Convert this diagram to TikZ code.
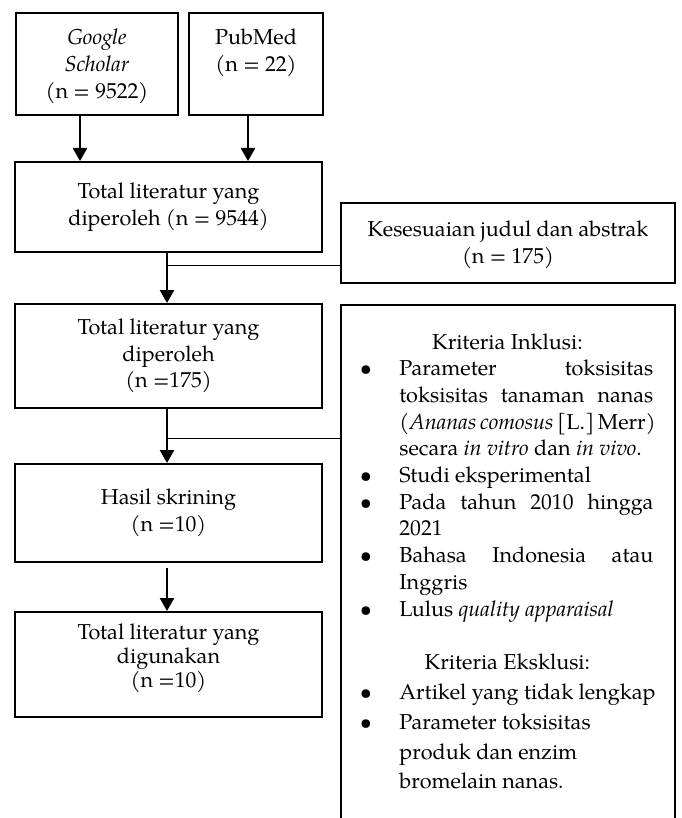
\documentclass[tikz,border=0pt]{standalone}
\usepackage{fontspec}
\setmainfont{TeX Gyre Pagella}
\usetikzlibrary{arrows.meta}
\newlength\kw \setlength\kw{127pt}
\newcommand\kb{\hbox to 29.5pt{\hskip 9.7pt\textbullet\hss}}
\newcommand\kn{\hbox to 29.5pt{}}
\begin{document}
\begin{tikzpicture}[x=0.5pt,y=-0.5pt,
  box/.style={draw, line width=1pt, inner sep=0},
  txt/.style={align=center, inner sep=0, font=\fontsize{10.8}{13.3}\selectfont},
  arr/.style={line width=1.3pt, -{Triangle[length=6.5pt,width=7pt]}},
  link/.style={line width=0.5pt}]
\useasboundingbox (0,0) rectangle (681,818);
% boxes
\node[box, minimum width=81pt, minimum height=51pt] (gs) at (97,64) {};
\node[box, minimum width=67pt, minimum height=51pt] (pm) at (256,64) {};
\node[box, minimum width=153.5pt, minimum height=45pt] (t1) at (168.5,207) {};
\node[box, minimum width=167pt, minimum height=40pt] (kes) at (508,243) {};
\node[box, minimum width=153.5pt, minimum height=52pt] (t2) at (168.5,356) {};
\node[box, minimum width=153.5pt, minimum height=49pt] (t3) at (168.5,513) {};
\node[box, minimum width=153.5pt, minimum height=52.5pt] (t4) at (168.5,664.5) {};
\node[inner sep=0, minimum width=167pt, minimum height=261pt] (kbox) at (508,566) {};
\draw[line width=1pt] (kbox.south west) -- (kbox.north west) -- (kbox.north east) -- (kbox.south east);
% texts
\node[txt, anchor=base] (gst) at (97,45) {\parbox[t]{80pt}{\centering\itshape Google\\Scholar\\\upshape(n = 9522)}};
\node[txt, anchor=base] (pmt) at (256,45) {\parbox[t]{66pt}{\centering PubMed\\(n = 22)}};
\node[txt] (t1t) at (t1) {Total literatur yang\\diperoleh (n = 9544)};
\node[txt] (kest) at ([yshift=-1pt]kes) {Kesesuaian judul dan abstrak\\(n = 175)};
\node[txt] (t2t) at (t2) {Total literatur yang\\diperoleh\\(n =175)};
\node[txt] (t3t) at (t3) {Hasil skrining\\(n =10)};
\node[txt, font=\fontsize{10.8}{10.5}\selectfont] (t4t) at ([yshift=3pt]t4) {Total literatur yang\\digunakan\\(n =10)};
\node[txt, anchor=base west, align=left] (ktext) at (340,349) {\vtop{\hsize=167pt\baselineskip=13.35pt
\hbox to\hsize{\hss Kriteria Inklusi:\hss}
\hbox{\kb\hbox to\kw{Parameter\hfill toksisitas}}
\hbox{\kn\hbox to\kw{toksisitas\hfill\ tanaman\hfill\ nanas}}
\hbox{\kn\hbox to\kw{(\textit{Ananas comosus} [L.] Merr)}}
\hbox{\kn secara \textit{in vitro} dan \textit{in vivo}.}
\hbox{\kb Studi eksperimental}
\hbox{\kb\hbox to\kw{Pada\hfill\ tahun\hfill\ 2010\hfill\ hingga}}
\hbox{\kn 2021}
\hbox{\kb\hbox to\kw{Bahasa\hfill Indonesia\hfill atau}}
\hbox{\kn Inggris}
\hbox{\kb Lulus \textit{quality apparaisal}}
\vskip 13.35pt
\hbox to\hsize{\hss Kriteria Eksklusi:\hss}
\baselineskip=15pt
\hbox{\kb Artikel yang tidak lengkap}
\hbox{\kb Parameter toksisitas}
\hbox{\kn produk dan enzim}
\baselineskip=14.3pt
\hbox{\kn bromelain nanas.}
}};
% connectors
\coordinate (j1) at (167,265);
\coordinate (j2) at (167,438);
\draw[arr] ([xshift=-8.5pt]gs.south) -- ([xshift=-8.5pt]gs.south |- t1.north);
\draw[arr] ([xshift=-4pt]pm.south) -- ([xshift=-4pt]pm.south |- t1.north);
\draw[arr] (t1.south -| j1) -- (t2.north -| j1);
\draw[link] (j1) -- (j1 -| kes.west);
\draw[arr] (t2.south -| j2) -- (t3.north -| j2);
\draw[link] (j2) -- (j2 -| kbox.west);
\draw[arr] ([yshift=-2.5pt]t3.south -| j2) -- (t4.north -| j2);
\end{tikzpicture}
\end{document}
